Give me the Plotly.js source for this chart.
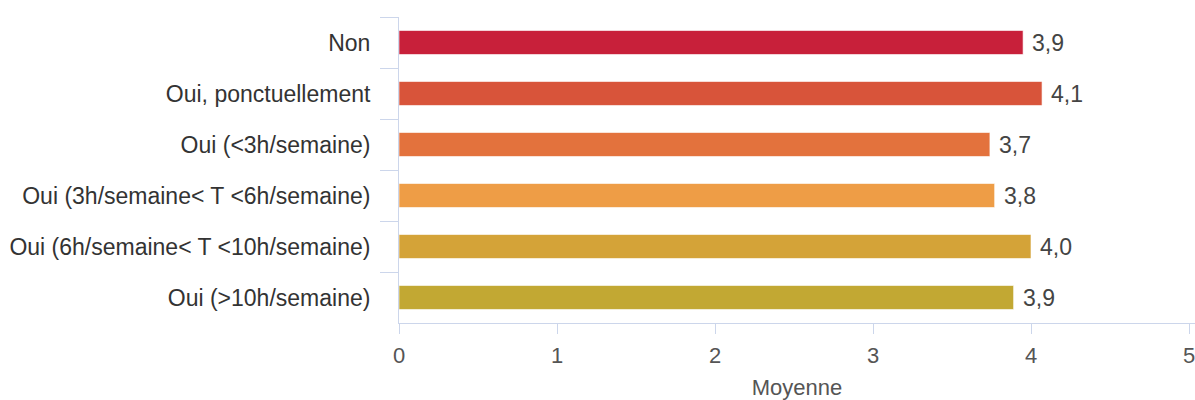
<!DOCTYPE html>
<html>
<head>
<meta charset="utf-8">
<script src="https://cdn.plot.ly/plotly-3.0.1.min.js"></script>
<style>
  html, body { margin: 0; padding: 0; background: #ffffff; }
  #chart { width: 1195px; height: 400px; }
</style>
</head>
<body>
<div id="chart"></div>
<script>
const categories = [
  "Non",
  "Oui, ponctuellement",
  "Oui (<3h/semaine)",
  "Oui (3h/semaine< T <6h/semaine)",
  "Oui (6h/semaine< T <10h/semaine)",
  "Oui (>10h/semaine)"
];
const values = [3.95, 4.07, 3.74, 3.77, 4.0, 3.89];
const valueLabels = ["3,9", "4,1", "3,7", "3,8", "4,0", "3,9"];
const barColors = ["#c8203a", "#d8543a", "#e3723d", "#ee9d46", "#d4a338", "#c2a833"];
const xTicks = [0, 1, 2, 3, 4, 5];
const xTitle = "Moyenne";

const FONT = "'Liberation Sans', Arial, Helvetica, sans-serif";
const AXIS = "#ccd6eb";

const trace = {
  type: "bar",
  orientation: "h",
  x: values,
  y: categories,
  marker: { color: barColors, line: { color: "rgba(255,255,255,0.6)", width: 1 } },
  hoverinfo: "none"
};

const annotations = values.map((v, i) => ({
  x: v, y: categories[i], xref: "x", yref: "y",
  text: valueLabels[i], showarrow: false,
  xanchor: "left", yanchor: "middle", xshift: 7,
  font: { family: FONT, size: 23, color: "#444444" }
}));

const layout = {
  width: 1195, height: 400,
  margin: { l: 399, r: 0, t: 17, b: 77, pad: 0 },
  paper_bgcolor: "#ffffff", plot_bgcolor: "#ffffff",
  showlegend: false,
  bargap: 0.53,
  font: { family: FONT },
  xaxis: {
    range: [0, 5.038],
    tickvals: xTicks,
    ticktext: xTicks.map(String),
    ticklabeloverflow: "allow",
    showgrid: false, zeroline: false,
    showline: true, linecolor: AXIS, linewidth: 1,
    ticks: "outside", ticklen: 10, tickcolor: AXIS, tickwidth: 1,
    ticklabelstandoff: 3,
    tickfont: { family: FONT, size: 22, color: "#555555" },
    title: { text: xTitle, font: { family: FONT, size: 22, color: "#555555" }, standoff: 14 }
  },
  yaxis: {
    autorange: "reversed",
    type: "category",
    showgrid: false, zeroline: false,
    showline: true, linecolor: AXIS, linewidth: 1,
    ticks: "outside", ticklen: 18, tickcolor: AXIS, tickwidth: 1,
    tickson: "boundaries",
    ticklabelstandoff: 23,
    tickfont: { family: FONT, size: 23, color: "#333333" }
  },
  annotations: annotations
};

Plotly.newPlot("chart", [trace], layout, { staticPlot: true, displayModeBar: false });
</script>
</body>
</html>
